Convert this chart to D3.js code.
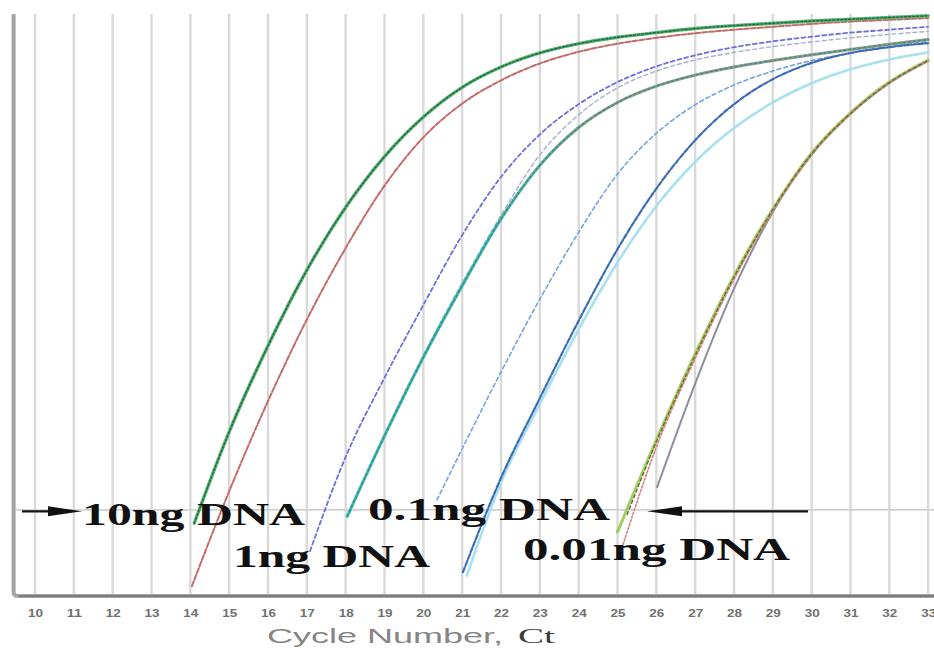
<!DOCTYPE html>
<html>
<head>
<meta charset="utf-8">
<script src="https://cdn.jsdelivr.net/npm/d3@7"></script>
<style>
  html, body { margin: 0; padding: 0; background: #fff; }
  svg { display: block; }
</style>
</head>
<body>
<svg id="chart" width="934" height="648"></svg>
<script>
// Real-time PCR amplification curves for a 10-fold DNA dilution series.
// Signal is normalized reporter fluorescence (0-100); x is the PCR cycle number.

const cycleTicks = [10, 11, 12, 13, 14, 15, 16, 17, 18, 19, 20, 21, 22, 23, 24, 25, 26, 27, 28, 29, 30, 31, 32, 33];
const thresholdSignal = 14.8;

// Each run: [first cycle, signal] where the trace leaves the baseline,
// followed by the signal at every whole cycle after it up to cycle 33.
const ng10GreenStart = [14.1, 12.5];
const ng10Green = [28.2, 43.0, 56.0, 66.8, 75.5, 82.3, 87.4, 90.9, 93.3, 94.9, 96.0, 96.8, 97.5, 98.0, 98.4, 98.8, 99.1, 99.4, 99.7];
const ng10RedStart = [14.04, 1.7];
const ng10Red = [18.0, 33.5, 47.5, 59.8, 70.5, 78.8, 84.6, 88.6, 91.5, 93.5, 94.9, 95.9, 96.7, 97.3, 97.8, 98.3, 98.7, 99.0, 99.3];

const ng1VioletStart = [17.08, 7.7];
const ng1Violet = [23.9, 37.5, 50.0, 62.0, 72.0, 79.3, 84.5, 88.3, 91.0, 92.9, 94.3, 95.3, 96.1, 96.8, 97.3, 97.8];
const ng1TealStart = [18.04, 13.7];
const ng1Teal = [27.5, 41.0, 53.3, 64.8, 74.0, 80.5, 84.8, 87.6, 89.5, 90.9, 92.0, 93.0, 93.9, 94.8, 95.6];
const ng1GreyStart = [18.1, 14.2];
const ng1Grey = [27.8, 41.4, 53.8, 65.4, 75.8, 82.7, 87.3, 90.2, 92.1, 93.4, 94.4, 95.2, 95.9, 96.5, 97.0];

const ng01SkyStart = [20.35, 16.5];
const ng01Sky = [25.3, 38.5, 51.0, 62.5, 72.5, 79.5, 84.4, 87.8, 90.2, 92.0, 93.3, 94.4, 95.3];
const ng01BlueStart = [21.02, 4.1];
const ng01Blue = [20.3, 34.0, 47.3, 59.6, 70.0, 78.3, 84.5, 88.8, 91.6, 93.3, 94.3, 95.0];
const ng01CyanStart = [21.12, 3.5];
const ng01Cyan = [19.5, 33.0, 45.8, 57.3, 67.0, 74.6, 80.4, 84.8, 88.1, 90.5, 92.2, 93.4];

const ng001LimeStart = [25.0, 11.0];
const ng001Lime = [26.8, 41.6, 55.0, 66.5, 76.1, 83.0, 88.3, 92.1];
const ng001RoseStart = [25.14, 8.8];
const ng001Rose = [25.6, 40.8, 54.4, 66.2, 75.9, 82.9, 88.2, 92.0];
const ng001OliveStart = [25.25, 14.0];
const ng001Olive = [26.5, 41.3, 54.8, 66.4, 76.0, 82.9, 88.2, 92.0];
const ng001GreyStart = [26.02, 18.7];
const ng001Grey = [36.5, 52.8, 66.0, 75.8, 82.8, 88.1, 91.9];

// Annotation texts
const doseLabels = ["10ng DNA", "1ng DNA", "0.1ng DNA", "0.01ng DNA"];
const axisTitle = ["Cycle Number,", "Ct"];

// ---------------------------------------------------------------------------
const W = 934, H = 648;
const svg = d3.select("#chart");

const x = d3.scaleLinear().domain([9.5, 33.15]).range([15.6, 934]);
const y = d3.scaleLinear().domain([0, 100]).range([596, 14]);

function tracePoints(start, values) {
  const first = Math.floor(start[0]) + 1;
  return [{ c: start[0], v: start[1] }].concat(values.map((v, i) => ({ c: first + i, v })));
}

// gradient for the teal run that greys out towards the plateau
const defs = svg.append("defs");
const grad = defs.append("linearGradient")
  .attr("id", "tealFade").attr("gradientUnits", "userSpaceOnUse")
  .attr("x1", x(21.5)).attr("x2", x(24.5)).attr("y1", 0).attr("y2", 0);
grad.append("stop").attr("offset", "0%").attr("stop-color", "#3db5ad");
grad.append("stop").attr("offset", "100%").attr("stop-color", "#8c9a86");

// vertical grid at each cycle
svg.append("g").selectAll("line").data(cycleTicks).join("line")
  .attr("x1", d => x(d)).attr("x2", d => x(d))
  .attr("y1", y(100)).attr("y2", y(0))
  .attr("stroke", "#d9d9d9").attr("stroke-width", 2.4);

// threshold line
svg.append("line")
  .attr("x1", x(9.5)).attr("x2", W)
  .attr("y1", y(thresholdSignal)).attr("y2", y(thresholdSignal))
  .attr("stroke", "#d2d2d2").attr("stroke-width", 1.6);

// frame: left and bottom axis lines
svg.append("path")
  .attr("d", `M${x(9.5) - 2},${y(100)} L${x(9.5) - 2},${y(0) - 4} Q${x(9.5) - 2},${y(0)} ${x(9.5) + 3},${y(0)} L${W},${y(0)}`)
  .attr("fill", "none").attr("stroke", "#a4a4a4").attr("stroke-width", 4);
svg.append("line")
  .attr("x1", x(9.5) + 3).attr("x2", W).attr("y1", y(0)).attr("y2", y(0))
  .attr("stroke", "#7d7d7d").attr("stroke-width", 2);

// x axis labels
const xAxis = d3.axisBottom(x).tickValues(cycleTicks).tickSize(0).tickPadding(0).tickFormat(d3.format("d"));
const gx = svg.append("g").attr("transform", `translate(0,${y(0)})`).call(xAxis);
gx.select(".domain").remove();
gx.selectAll("text")
  .attr("y", 21).attr("dy", null)
  .attr("font-family", "Liberation Sans, Arial, sans-serif")
  .attr("font-size", 11).attr("font-weight", "bold")
  .attr("fill", "#707070")
  .attr("textLength", 15).attr("lengthAdjust", "spacingAndGlyphs");

svg.append("text")
  .attr("x", 267).attr("y", 643)
  .attr("font-family", "Liberation Sans, Arial, sans-serif").attr("font-size", 21)
  .attr("fill", "#858585")
  .attr("textLength", 236).attr("lengthAdjust", "spacingAndGlyphs")
  .text(axisTitle[0]);
svg.append("text")
  .attr("x", 518).attr("y", 643)
  .attr("font-family", "Liberation Serif, Times New Roman, serif").attr("font-size", 22)
  .attr("fill", "#3c3c3c")
  .attr("textLength", 37).attr("lengthAdjust", "spacingAndGlyphs")
  .text(axisTitle[1]);

// curves
const line = d3.line().x(d => x(d.c)).y(d => y(d.v)).curve(d3.curveMonotoneX);

const runs = [
  { start: ng001GreyStart, values: ng001Grey, strokes: [{ color: "#8e8e9c", width: 2 }] },
  { start: ng001LimeStart, values: ng001Lime, strokes: [{ color: "#9fcd63", width: 3 }] },
  { start: ng001RoseStart, values: ng001Rose, strokes: [{ color: "#d98080", width: 1.6, dash: "2,2" }] },
  { start: ng001OliveStart, values: ng001Olive, strokes: [{ color: "#6f6a2e", width: 1.4, dash: "3,3" }] },

  { start: ng01CyanStart, values: ng01Cyan, strokes: [{ color: "#a7e0ee", width: 2.6 }] },
  { start: ng01SkyStart, values: ng01Sky, strokes: [{ color: "#74a4dc", width: 1.6, dash: "4,3" }] },
  { start: ng01BlueStart, values: ng01Blue, strokes: [{ color: "#3c6cb6", width: 2.2, dash: "5,2" }] },

  { start: ng1GreyStart, values: ng1Grey, strokes: [{ color: "#a6afcf", width: 1.4, dash: "4,3" }] },
  { start: ng1TealStart, values: ng1Teal, strokes: [{ color: "url(#tealFade)", width: 3 }, { color: "#2b8f8a", width: 1.2, dash: "2,3" }] },
  { start: ng1VioletStart, values: ng1Violet, strokes: [{ color: "#6f6fdc", width: 1.8, dash: "4,3" }] },

  { start: ng10RedStart, values: ng10Red, strokes: [{ color: "#c46a68", width: 2, dash: "5,2" }] },
  { start: ng10GreenStart, values: ng10Green, strokes: [{ color: "#58b574", width: 3.4 }, { color: "#22653e", width: 1.4, dash: "2,2" }] }
];

const gCurves = svg.append("g").attr("fill", "none").attr("stroke-linecap", "round");
runs.forEach(run => {
  const pts = tracePoints(run.start, run.values);
  run.strokes.forEach(s => {
    gCurves.append("path")
      .datum(pts)
      .attr("d", line)
      .attr("stroke", s.color)
      .attr("stroke-width", s.width)
      .attr("stroke-dasharray", s.dash || null);
  });
});

// dose annotations
const labelFont = "Liberation Serif, Times New Roman, serif";
const gLab = svg.append("g")
  .attr("font-family", labelFont).attr("font-weight", "bold").attr("font-size", 31).attr("fill", "#111");
gLab.append("text").attr("x", 82).attr("y", 525).attr("textLength", 223).attr("lengthAdjust", "spacingAndGlyphs").text(doseLabels[0]);
gLab.append("text").attr("x", 233).attr("y", 567).attr("textLength", 197).attr("lengthAdjust", "spacingAndGlyphs").text(doseLabels[1]);
gLab.append("text").attr("x", 368).attr("y", 520).attr("textLength", 242).attr("lengthAdjust", "spacingAndGlyphs").text(doseLabels[2]);
gLab.append("text").attr("x", 523).attr("y", 560).attr("textLength", 267).attr("lengthAdjust", "spacingAndGlyphs").text(doseLabels[3]);

// arrows along the threshold
const ay = y(thresholdSignal) + 1.5;
svg.append("line").attr("x1", 22).attr("x2", 60).attr("y1", ay).attr("y2", ay)
  .attr("stroke", "#111").attr("stroke-width", 2.2);
svg.append("path").attr("d", `M82,${ay} L48,${ay - 5} L48,${ay + 5} Z`).attr("fill", "#111");
svg.append("line").attr("x1", 672).attr("x2", 808).attr("y1", ay).attr("y2", ay)
  .attr("stroke", "#111").attr("stroke-width", 2.2);
svg.append("path").attr("d", `M647,${ay} L682,${ay - 5} L682,${ay + 5} Z`).attr("fill", "#111");
</script>
</body>
</html>
